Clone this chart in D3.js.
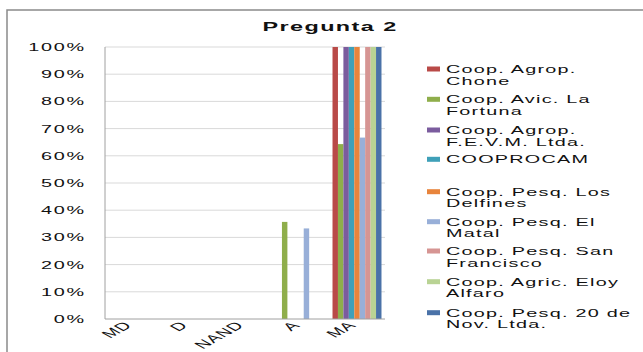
<!DOCTYPE html>
<html><head><meta charset="utf-8">
<script src="https://cdn.jsdelivr.net/npm/d3@7"></script>
<style>body{margin:0;background:#fff}svg{display:block}text{font-family:"Liberation Sans",Arial,sans-serif;fill:#111}</style>
</head><body>
<svg id="c" width="643" height="352"></svg>
<script>
const title = "Pregunta 2";
const categories = ["MD","D","NAND","A","MA"];
const seriesNames = [
  ["Coop. Agrop.","Chone"],
  ["Coop. Avic. La","Fortuna"],
  ["Coop. Agrop.","F.E.V.M. Ltda."],
  ["COOPROCAM"],
  ["Coop. Pesq. Los","Delfines"],
  ["Coop. Pesq. El","Matal"],
  ["Coop. Pesq. San","Francisco"],
  ["Coop. Agric. Eloy","Alfaro"],
  ["Coop. Pesq. 20 de","Nov. Ltda."]
];
const chone      = [0,0,0,0,100];
const laFortuna  = [0,0,0,35.7,64.3];
const fevm       = [0,0,0,0,100];
const cooprocam  = [0,0,0,0,100];
const delfines   = [0,0,0,0,100];
const matal      = [0,0,0,33.3,66.7];
const sanFco     = [0,0,0,0,100];
const eloyAlfaro = [0,0,0,0,100];
const veinteNov  = [0,0,0,0,100];
const seriesValues = [chone,laFortuna,fevm,cooprocam,delfines,matal,sanFco,eloyAlfaro,veinteNov];
const colors = ["#B94A48","#8FAE4B","#7B5C9E","#3FA0B8","#E8843C","#98AFD8","#D69593","#B9D394","#4A72A8"];
const yTicks = [0,10,20,30,40,50,60,70,80,90,100];

const SX = 1.8;
const svg = d3.select("#c");
svg.append("rect").attr("x",7).attr("y",10).attr("width",700).attr("height",400)
  .attr("fill","#fff").attr("stroke","#8a8a8a").attr("stroke-width",1.5);

const L=105, R=385, T=47, B=319;
const y = d3.scaleLinear().domain([0,100]).range([B,T]);
const x0 = d3.scaleBand().domain(categories).range([L,R]).padding(0);
const x1 = d3.scaleBand().domain(d3.range(seriesValues.length)).range([0,x0.bandwidth()]).paddingInner(0).paddingOuter(0.645);

function stext(g, x, yy, str, opts={}) {
  const t = g.append("g").attr("transform",`translate(${x},${yy}) scale(${SX},1)` + (opts.rot?` rotate(${opts.rot})`:""))
    .append("text").attr("text-anchor",opts.anchor||"start")
    .style("font-size",(opts.size||11)+"px").style("font-weight",opts.weight||"normal")
    .style("letter-spacing",(opts.ls==null?0.7:opts.ls)+"px")
    .text(str);
  return t;
}

// gridlines
svg.append("g").selectAll("line").data(yTicks.filter(d=>d>0)).join("line")
  .attr("x1",L).attr("x2",R).attr("y1",d=>y(d)).attr("y2",d=>y(d))
  .attr("stroke","#d9d9d9").attr("stroke-width",1);

// bars
seriesValues.forEach((vals,si)=>{
  svg.append("g").selectAll("rect").data(vals.map((v,i)=>({v,c:categories[i]})).filter(d=>d.v>0)).join("rect")
    .attr("x",d=>x0(d.c)+x1(si)).attr("width",x1.bandwidth())
    .attr("y",d=>y(d.v)).attr("height",d=>y(0)-y(d.v))
    .attr("fill",colors[si]);
});

// axes lines
svg.append("line").attr("x1",L).attr("x2",L).attr("y1",T).attr("y2",B).attr("stroke","#a0a0a0");
svg.append("line").attr("x1",L).attr("x2",R).attr("y1",B).attr("y2",B).attr("stroke","#a0a0a0");

// y labels
const gy = svg.append("g");
yTicks.forEach(d=>stext(gy,86,y(d)+4,d+"%",{anchor:"end",size:11,ls:1}));

// x labels
const gx = svg.append("g");
categories.forEach(c=>stext(gx,x0(c)+x0.bandwidth()/2,B+7,c,{anchor:"end",size:11,rot:-45,ls:0.5}));

// title
stext(svg,330,31,title,{anchor:"middle",size:13,weight:"bold",ls:0.8});

// legend
const legY = [69,99.3,130,159.3,191.7,221.7,251,281.7,312.7];
const gl = svg.append("g");
seriesNames.forEach((lines,i)=>{
  gl.append("rect").attr("x",427).attr("y",legY[i]-2.5).attr("width",13).attr("height",5).attr("fill",colors[i]);
  lines.forEach((ln,j)=>stext(gl,446,legY[i]+4+j*11.7,ln,{size:11}));
});
</script>
</body></html>
